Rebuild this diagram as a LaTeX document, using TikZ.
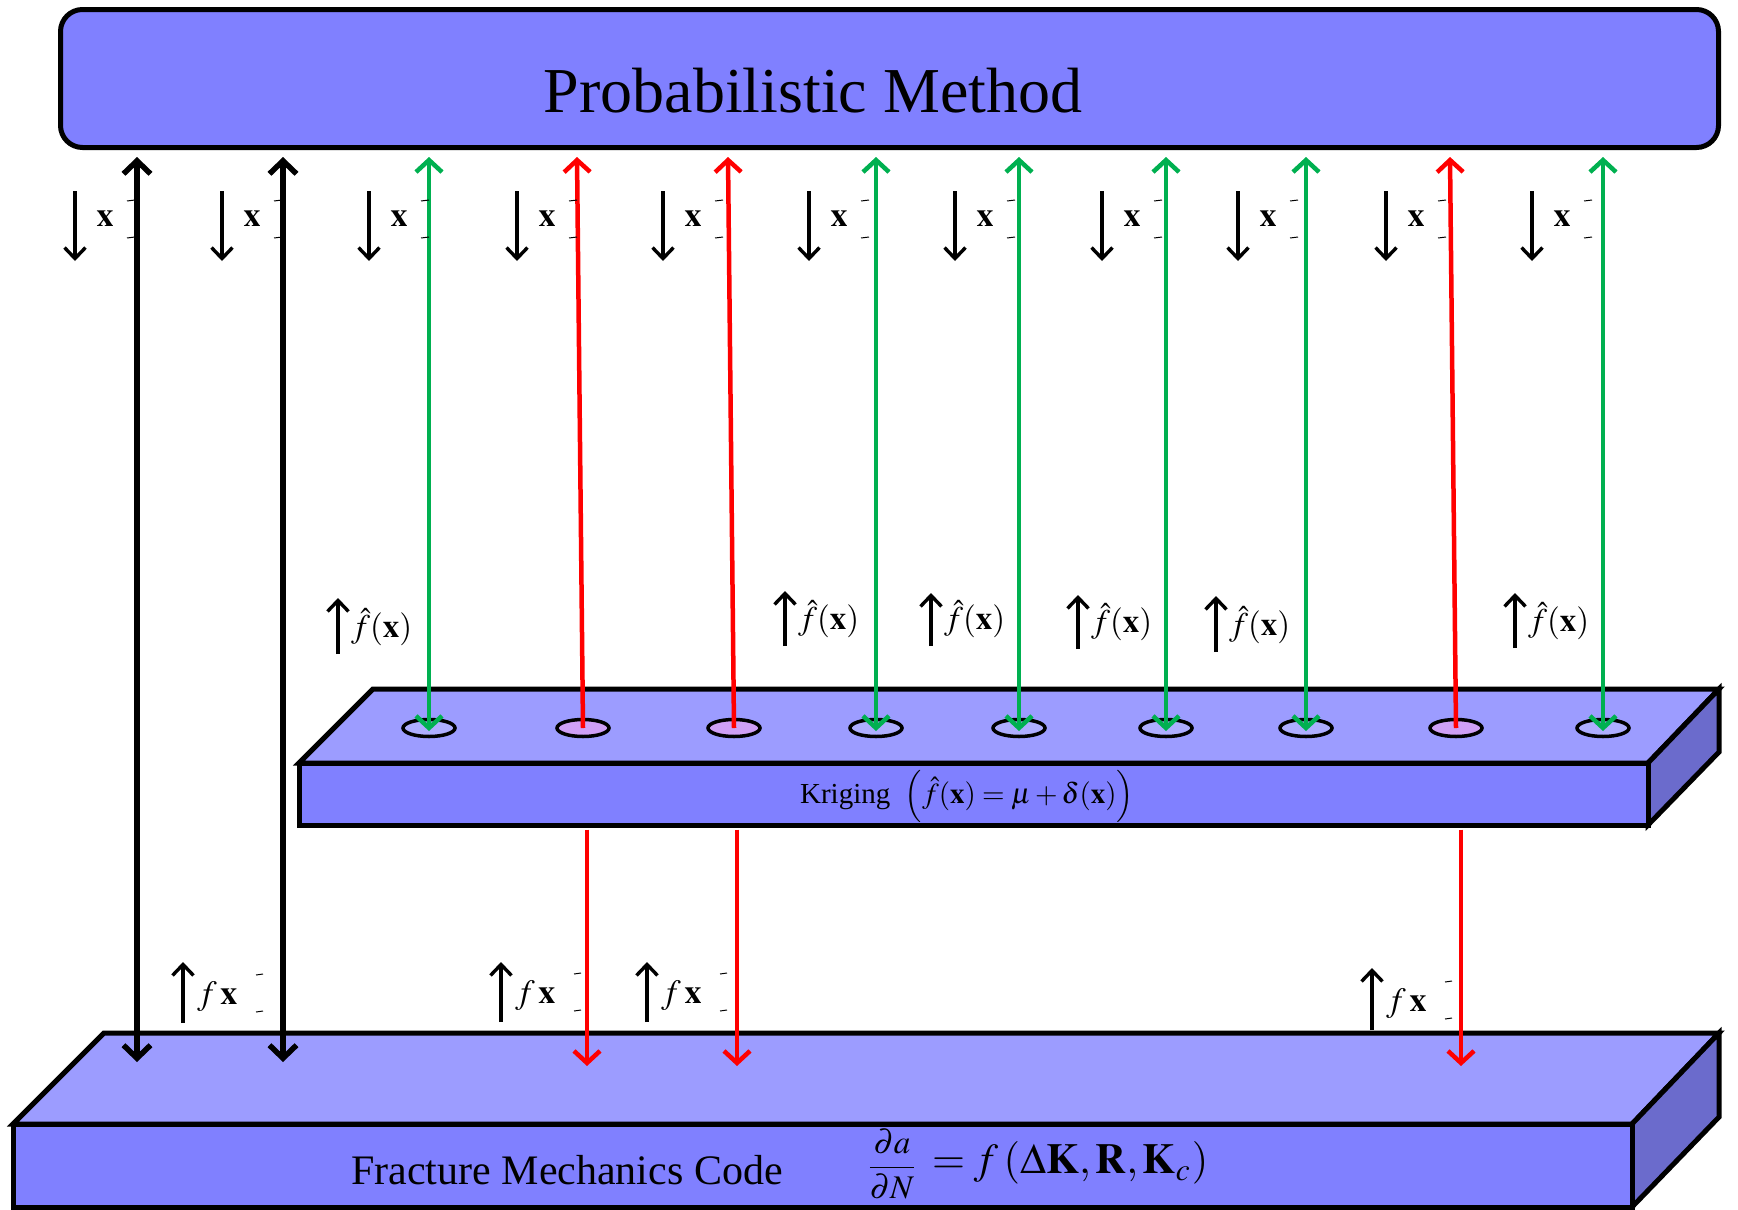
\documentclass[tikz,border=0pt]{standalone}
\usepackage{mathptmx}
\usepackage{graphicx}
\usepackage{fontspec}
\setmainfont{Liberation Serif}
\usetikzlibrary{arrows.meta,calc,shapes.geometric}
\definecolor{boxfill}{HTML}{8080FF}
\definecolor{topface}{HTML}{9C9CFF}
\definecolor{sideface}{HTML}{6B6BCC}
\definecolor{holeA}{HTML}{AEAEFF}
\definecolor{holeB}{HTML}{CFA0F6}
\definecolor{gr}{HTML}{00B050}
\definecolor{rd}{HTML}{FF0000}
\begin{document}
\begin{tikzpicture}[x=1pt,y=-1pt,
  slab/.style={draw=black,line width=5pt,line join=miter},
  hole/.style={draw=black,ellipse,line width=3.5pt,minimum width=52pt,minimum height=17pt,inner sep=0pt},
  blackarrow/.style={draw=black,line width=5.5pt,{Straight Barb[length=13pt,width=27pt]}-{Straight Barb[length=13pt,width=27pt]}},
  greenarrow/.style={draw=gr,line width=4.5pt,{Straight Barb[length=12pt,width=26pt]}-{Straight Barb[length=12pt,width=26pt]}},
  redarrow/.style={draw=rd,line width=4.5pt,-{Straight Barb[length=12pt,width=26pt]}},
  smallarrow/.style={draw=black,line width=3.4pt,-{Straight Barb[length=11pt,width=21pt]}},
  lbl/.style={inner sep=0pt,font=\fontsize{33}{33}\selectfont},
  dashmark/.style={draw=black,line width=1pt}
]
\useasboundingbox (0,0) rectangle (1738,1210);

% ---- Probabilistic Method box
\node[draw=black,fill=boxfill,line width=5pt,rounded corners=22pt,minimum width=1658pt,minimum height=138pt,inner sep=0pt] (pm) at (889.5,78.5) {};
\node[inner sep=0pt,font=\fontsize{64}{64}\selectfont] (pmtext) at (813,91) {Probabilistic Method};

% ---- Kriging slab
\filldraw[slab,fill=topface] (299,763) -- (373,689) -- (1719,689) -- (1648,763) -- cycle;
\filldraw[slab,fill=sideface] (1648,763) -- (1719,689) -- (1719,752) -- (1648,825) -- cycle;
\node[draw=black,fill=boxfill,line width=5pt,minimum width=1349pt,minimum height=62pt,inner sep=0pt] (kr) at (973.5,794) {};
\node[inner sep=0pt,font=\fontsize{29}{29}\selectfont] (krtext) at (967,796) {Kriging\enspace$\Bigl(\hat{f}\mathbf{(x)}=\mu+\delta\mathbf{(x)}\Bigr)$};

% ---- Fracture slab
\filldraw[slab,fill=topface] (13,1124) -- (104,1033) -- (1719,1033) -- (1632,1124) -- cycle;
\filldraw[slab,fill=sideface] (1632,1124) -- (1719,1033) -- (1719,1117) -- (1632,1207) -- cycle;
\node[draw=black,fill=boxfill,line width=5pt,minimum width=1619pt,minimum height=83pt,inner sep=0pt] (fm) at (822.5,1165.5) {};
\node[inner sep=0pt,font=\fontsize{42}{42}\selectfont] (fmtext) at (567,1170) {Fracture Mechanics Code};
\node[inner sep=0pt,font=\fontsize{33}{33}\selectfont] (fmfrac) at (892,1164)
  {$\displaystyle\frac{\partial a}{\partial N}$};
\node[inner sep=0pt,anchor=west] (fmrhs) at (932,1163)
  {\resizebox{276pt}{32pt}{$=f\,(\Delta\mathbf{K},\mathbf{R},\mathbf{K}_{c})$}};

% ---- holes on Kriging slab
\foreach \i/\x/\c in {1/429/holeA,2/583/holeB,3/734/holeB,4/876/holeA,5/1019/holeA,6/1166/holeA,7/1306/holeA,8/1456/holeB,9/1603/holeA}{
  \node[hole,fill=\c] (e\i) at (\x,728) {};
}

% ---- black double arrows between Probabilistic Method and Fracture code
\coordinate (b1) at (137,1062);
\coordinate (b2) at (283,1062);
\draw[blackarrow] ($(b1 |- pm.south)+(0,7)$) -- (b1);
\draw[blackarrow] ($(b2 |- pm.south)+(0,7)$) -- (b2);

% ---- green double arrows (Probabilistic Method <-> Kriging)
\foreach \i in {1,4,5,6,7,9}{
  \draw[greenarrow] ($(e\i |- pm.south)+(0,7)$) -- ($(e\i.center)+(0,3)$);
}

% ---- red arrows Kriging -> Probabilistic Method (slightly slanted)
\foreach \i in {2,3,8}{
  \draw[redarrow] (e\i.center) -- ($(e\i |- pm.south)+(-6,7)$);
}

% ---- red arrows Kriging -> Fracture code
\foreach \n/\x in {1/587,2/737,3/1461}{
  \coordinate (r\n) at (\x,1066);
  \draw[redarrow] ($(r\n |- kr.south)+(0,2)$) -- (r\n);
}

% ---- small down arrows with x labels
\foreach \n/\x in {1/75,2/222,3/369,4/517,5/663,6/809,7/955,8/1102,9/1238,10/1386,11/1532}{
  \coordinate (da\n) at (\x,191);
  \coordinate (db\n) at (\x,261);
  \draw[smallarrow] (da\n) -- (db\n);
  \node[inner sep=0pt,font=\fontsize{34}{34}\selectfont] (dx\n) at ($(da\n)+(30,28)$) {$\mathbf{x}$};
  \draw[dashmark] ($(da\n)+(52,10)$) -- ($(da\n)+(60,9)$);
  \draw[dashmark] ($(da\n)+(52,47)$) -- ($(da\n)+(60,46)$);
}

% ---- up arrows with \hat f(x)
\foreach \n/\x/\ya/\yb in {1/338/654/598,2/785/646/591,3/931/646/593,4/1078/649/595,5/1216/652/596,6/1515/648/593}{
  \coordinate (ha\n) at (\x,\ya);
  \coordinate (hb\n) at (\x,\yb);
  \draw[smallarrow] (ha\n) -- (hb\n);
  \node[lbl,anchor=west] (hl\n) at ($(ha\n)+(13,-27)$) {$\hat{f}\mathbf{(x)}$};
}

% ---- up arrows with f x
\foreach \n/\x/\ya/\yb in {1/183/1023/962,2/501/1022/962,3/647/1022/962,4/1372/1030/968}{
  \coordinate (fa\n) at (\x,\ya);
  \coordinate (fb\n) at (\x,\yb);
  \draw[smallarrow] (fa\n) -- (fb\n);
  \node[inner sep=0pt,font=\fontsize{34}{34}\selectfont,anchor=west] (fl\n) at ($(fa\n)+(14,-26)$) {$f\,\mathbf{x}$};
  \draw[dashmark] ($(fa\n)+(73,-48)$) -- ($(fa\n)+(80,-49)$);
  \draw[dashmark] ($(fa\n)+(73,-11)$) -- ($(fa\n)+(80,-12)$);
}
\end{tikzpicture}
\end{document}
